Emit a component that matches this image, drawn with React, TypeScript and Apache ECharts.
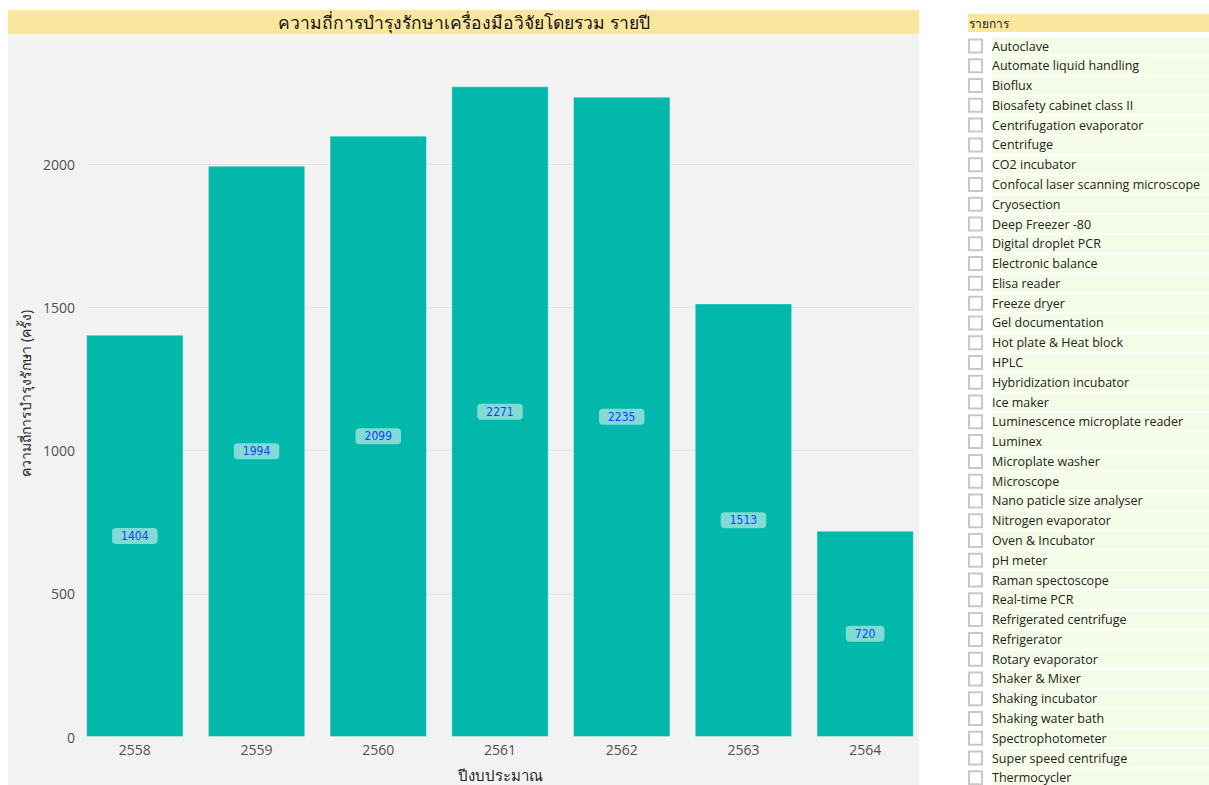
import React, { useEffect, useRef } from "react";
import * as echarts from "echarts";

const title = "ความถี่การบำรุงรักษาเครื่องมือวิจัยโดยรวม รายปี";
const xAxisName = "ปีงบประมาณ";
const yAxisName = "ความถี่การบำรุงรักษา (ครั้ง)";
const years = ["2558", "2559", "2560", "2561", "2562", "2563", "2564"];
const counts = [1404, 1994, 2099, 2271, 2235, 1513, 720];
const slicerTitle = "รายการ";
const slicerItems = [
  "Autoclave",
  "Automate liquid handling",
  "Bioflux",
  "Biosafety cabinet class II",
  "Centrifugation evaporator",
  "Centrifuge",
  "CO2 incubator",
  "Confocal laser scanning microscope",
  "Cryosection",
  "Deep Freezer -80",
  "Digital droplet PCR",
  "Electronic balance",
  "Elisa reader",
  "Freeze dryer",
  "Gel documentation",
  "Hot plate & Heat block",
  "HPLC",
  "Hybridization incubator",
  "Ice maker",
  "Luminescence microplate reader",
  "Luminex",
  "Microplate washer",
  "Microscope",
  "Nano paticle size analyser",
  "Nitrogen evaporator",
  "Oven & Incubator",
  "pH meter",
  "Raman spectoscope",
  "Real-time PCR",
  "Refrigerated centrifuge",
  "Refrigerator",
  "Rotary evaporator",
  "Shaker & Mixer",
  "Shaking incubator",
  "Shaking water bath",
  "Spectrophotometer",
  "Super speed centrifuge",
  "Thermocycler",
];

const FONT = "'Open Sans', 'Noto Sans', sans-serif";

export default function App() {
  const ref = useRef<HTMLDivElement>(null);
  useEffect(() => {
    document.body.style.margin = "0";
    const chart = echarts.init(ref.current!, undefined, { renderer: "svg" });

    const W = 1209;
    const rowStart = 46;
    const rowStep = 19.78;
    const slicerGraphics: any[] = [];
    slicerGraphics.push({
      type: "rect",
      shape: { x: 968, y: 14, width: W - 968, height: 18 },
      style: { fill: "#FAE69D" },
    });
    slicerGraphics.push({
      type: "text",
      x: 969,
      y: 23,
      style: {
        text: slicerTitle,
        fill: "#252423",
        font: `12px ${FONT}`,
        verticalAlign: "middle",
      },
    });
    slicerItems.forEach((name, i) => {
      const cy = rowStart + i * rowStep;
      slicerGraphics.push({
        type: "rect",
        shape: { x: 992, y: cy - 9, width: W - 992, height: 18 },
        style: { fill: "#F4FBE7" },
      });
      slicerGraphics.push({
        type: "rect",
        shape: { x: 969, y: cy - 6.5, width: 13, height: 13 },
        style: { fill: "#FFFFFF", stroke: "#C8C8C8", lineWidth: 2 },
      });
      slicerGraphics.push({
        type: "text",
        x: 992,
        y: cy,
        style: {
          text: name,
          fill: "#252423",
          font: `12.5px ${FONT}`,
          verticalAlign: "middle",
        },
      });
    });

    chart.setOption({
      animation: false,
      backgroundColor: "#FFFFFF",
      graphic: [
        {
          type: "rect",
          z: -10,
          shape: { x: 8, y: 34, width: 911, height: 760 },
          style: { fill: "#F2F2F2" },
        },
        {
          type: "rect",
          shape: { x: 8, y: 10, width: 911, height: 24 },
          style: { fill: "#FAE69D" },
        },
        {
          type: "text",
          x: 464,
          y: 22,
          style: {
            text: title,
            fill: "#111111",
            font: `17.5px ${FONT}`,
            align: "center",
            verticalAlign: "middle",
          },
        },
        ...slicerGraphics,
      ],
      grid: [
        { left: 74, right: W - 926, top: 49.4, bottom: 48, outerBoundsMode: "none", containLabel: false },
        { left: 86, right: W - 914, top: 49.4, bottom: 48, outerBoundsMode: "none", containLabel: false },
      ],
      xAxis: [
        {
          type: "category",
          gridIndex: 0,
          data: years,
          axisLine: { show: false },
          axisTick: { show: false },
          axisLabel: { color: "#505050", fontSize: 14, fontFamily: FONT, margin: 5 },
          name: xAxisName,
          nameLocation: "middle",
          nameGap: 30,
          nameTextStyle: { color: "#252423", fontSize: 15, fontFamily: FONT },
        },
        {
          type: "value",
          gridIndex: 1,
          min: 0,
          max: 1,
          show: false,
        },
      ],
      yAxis: [
        {
          type: "value",
          gridIndex: 0,
          min: 0,
          max: 2400,
          interval: 500,
          show: false,
        },
        {
          type: "value",
          gridIndex: 1,
          min: 0,
          max: 2400,
          interval: 500,
          axisLine: { show: false },
          axisTick: { show: false },
          axisLabel: {
            color: "#505050",
            fontSize: 14,
            fontFamily: FONT,
            margin: 11,
            showMaxLabel: false,
            formatter: (v: number) => String(v),
          },
          splitLine: {
            show: true,
            showMinLine: false,
            showMaxLine: false,
            lineStyle: { color: "#E4E4E4", width: 1 },
          },
          name: yAxisName,
          nameLocation: "middle",
          nameRotate: 90,
          nameGap: 44,
          nameTextStyle: { color: "#252423", fontSize: 14, fontFamily: FONT },
        },
      ],
      series: [
        {
          type: "bar",
          xAxisIndex: 0,
          yAxisIndex: 0,
          data: counts,
          barCategoryGap: "20%",
          itemStyle: {
            color: "#01B8AA",
            borderColor: "rgba(255,255,255,0.35)",
            borderWidth: 1,
          },
          label: {
            show: true,
            position: "inside",
            color: "#1F3BFF",
            fontSize: 12,
            fontFamily: "'DejaVu Sans Condensed', sans-serif",
            backgroundColor: "#80DBD4",
            borderRadius: 4,
            padding: [2, 9, 2, 9],
          },
        },
      ],
    });
    return () => chart.dispose();
  }, []);
  return <div ref={ref} style={{ width: 1209, height: 785 }} />;
}
